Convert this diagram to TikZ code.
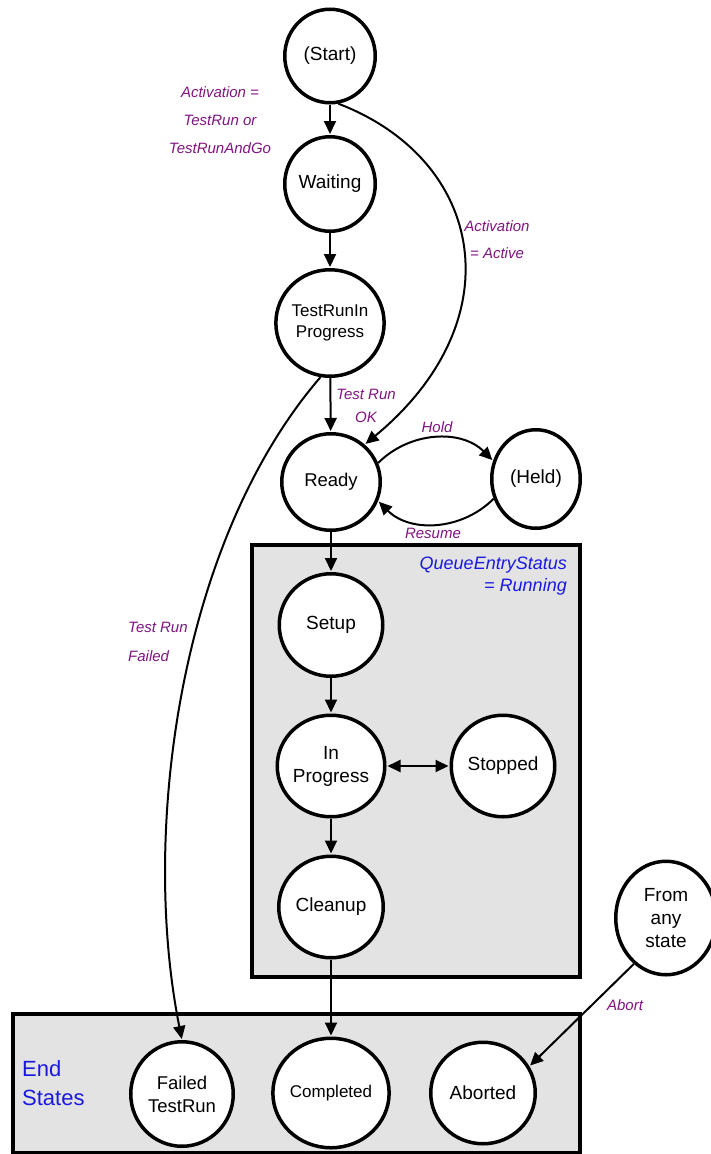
\documentclass[tikz,border=0pt]{standalone}
\usepackage{fontspec}
\setmainfont{Liberation Sans}
\usetikzlibrary{arrows.meta,shapes.geometric}
\definecolor{lblpurple}{RGB}{130,20,130}
\definecolor{lblblue}{RGB}{25,25,225}
\definecolor{boxgray}{RGB}{227,227,227}
\begin{document}
\begin{tikzpicture}[x=1pt,y=1pt,
  st/.style={ellipse, draw, line width=3.5pt, fill=white, inner sep=0pt, align=center,
    font=\fontsize{19}{23}\selectfont},
  arr/.style={line width=2pt, shorten >=1pt, -{Triangle[length=13pt,width=12pt]}},
  dbl/.style={line width=2pt, shorten >=1pt, shorten <=1pt,
    {Triangle[length=13pt,width=12pt]}-{Triangle[length=13pt,width=12pt]}},
  lbl/.style={text=lblpurple, font=\fontsize{15}{28}\selectfont\itshape, inner sep=0pt, align=center},
  ttl/.style={text=lblblue, inner sep=0pt},
  region/.style={draw, line width=3.5pt, fill=boxgray},
  ]
\useasboundingbox (0,0) rectangle (710,-1154);
\fill[white] (0,0) rectangle (710,-1154);
% regions
\draw[region] (252,-545) rectangle (580,-977);
\draw[region] (13,-1014) rectangle (580,-1153);
% states
\node[st, minimum width=90.5pt, minimum height=93.5pt] (start) at (330,-56) {(Start)};
\node[st, minimum width=90.5pt, minimum height=94.5pt] (waiting) at (330,-184) {Waiting};
\node[st, minimum width=106.5pt, minimum height=106.5pt, font=\fontsize{17}{21}\selectfont] (trip) at (330,-323) {TestRunIn\\Progress};
\node[st, minimum width=98.5pt, minimum height=96.5pt, font=\fontsize{18.5}{22}\selectfont] (ready) at (331,-482) {Ready};
\node[st, minimum width=88.5pt, minimum height=98.5pt] (held) at (536,-479) {(Held)};
\node[st, minimum width=103.5pt, minimum height=102.5pt] (setup) at (331,-625) {Setup};
\node[st, minimum width=103.5pt, minimum height=101.5pt] (inprog) at (331,-766) {In\\Progress};
\node[st, minimum width=103.5pt, minimum height=101.5pt] (stopped) at (503,-766) {Stopped};
\node[st, minimum width=104.5pt, minimum height=101.5pt] (cleanup) at (331,-907) {Cleanup};
\node[st, minimum width=100.5pt, minimum height=113.5pt] (fromany) at (666,-918) {From\\any\\state};
\node[st, minimum width=102.5pt, minimum height=104.5pt, font=\fontsize{18.5}{23}\selectfont] (failed) at (182,-1094) {Failed\\TestRun};
\node[st, minimum width=109.5pt, minimum height=109.5pt, font=\fontsize{17}{21}\selectfont] (completed) at (331,-1093) {Completed};
\node[st, minimum width=104.5pt, minimum height=101.5pt] (aborted) at (483,-1093) {Aborted};
% connectors
\draw[arr] (start) -- (waiting);
\draw[arr] (start.-80) .. controls (485,-160) and (515,-320) .. (ready.48);
\draw[arr] (waiting) -- (trip);
\draw[arr] (trip) -- (ready);
\draw[arr] (trip.-100) .. controls (180,-540) and (140,-830) .. (failed.north);
\draw[arr] (ready.22) to[out=45,in=135] (held.157);
\draw[arr] (held.205) to[out=-135,in=-45] (ready.-22);
\draw[arr] (ready) -- (setup);
\draw[arr] (setup) -- (inprog);
\draw[dbl] (inprog) -- (stopped);
\draw[arr] (inprog) -- (cleanup);
\draw[arr] (cleanup) -- (completed);
\draw[arr] (fromany.235) -- (aborted.30);
% labels
\node[lbl] (lact) at (220,-120) {Activation =\\TestRun or\\TestRunAndGo};
\node[lbl, font=\fontsize{15}{27}\selectfont\itshape] (lactive) at (497,-240) {Activation\\= Active};
\node[lbl, font=\fontsize{15}{23}\selectfont\itshape] (lok) at (366,-406) {Test Run\\OK};
\node[lbl] (lhold) at (437,-427) {Hold};
\node[lbl] (lresume) at (433,-533) {Resume};
\node[lbl, align=left, anchor=west, font=\fontsize{15}{29}\selectfont\itshape] (lfail) at (128,-642) {Test Run\\Failed};
\node[lbl] (labort) at (625,-1005) {Abort};
\node[ttl, align=right, anchor=east, font=\fontsize{18}{22}\selectfont\itshape] (lrun) at (567,-576) {QueueEntryStatus\\= Running};
\node[ttl, align=left, anchor=west, font=\fontsize{22}{29}\selectfont] (lend) at (22,-1083) {End\\States};
\end{tikzpicture}
\end{document}
